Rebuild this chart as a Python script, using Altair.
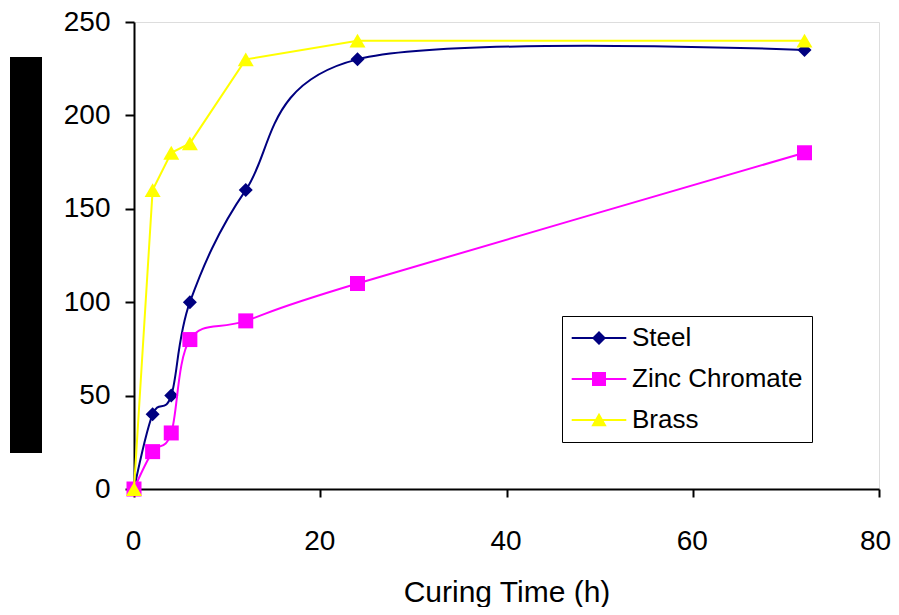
import altair as alt
import pandas as pd

# ---- data ----
times = [0, 2, 4, 6, 12, 24, 72]
steel = [0, 40, 50, 100, 160, 230, 235]
zinc = [0, 20, 30, 80, 90, 110, 180]
brass = [0, 160, 180, 185, 230, 240, 240]

series_names = ["Steel", "Zinc Chromate", "Brass"]
series_values = [steel, zinc, brass]
series_colors = ["#000080", "#FF00FF", "#FFFF00"]
series_shapes = ["diamond", "square", "triangle-up"]
series_sizes = [196, 225, 256]
series_interp = ["cardinal", "cardinal", "linear"]

x_ticks = [0, 20, 40, 60, 80]
y_ticks = [0, 50, 100, 150, 200, 250]

# legend symbols: line + marker as one path
LINE = "M-3.9,-0.16H3.9V0.16H-3.9Z "
legend_paths = [
    LINE + "M0,-1L1,0L0,1L-1,0Z",
    LINE + "M-1,-1H1V1H-1Z",
    LINE + "M0,-1.05L1.1,0.9H-1.1Z",
]

frames = []
for name, vals in zip(series_names, series_values):
    frames.append(pd.DataFrame({"t": times, "v": vals, "series": name}))
long_df = pd.concat(frames, ignore_index=True)

x_scale = alt.Scale(domain=[0, 80], nice=False)
y_scale = alt.Scale(domain=[0, 250], nice=False)

x_axis = alt.Axis(
    values=x_ticks, title="Curing Time (h)", grid=False,
    domainColor="black", domainWidth=2, tickColor="black", tickWidth=2, tickSize=8,
    labelFont="Liberation Sans", labelFontSize=28, labelColor="black",
    labelPadding=30, labelFlush=False,
    labelOffset={"condition": {"test": "datum.value === 80", "value": -4}, "value": -1},
    titleFont="Liberation Sans", titleFontSize=30, titleFontWeight="normal", titleColor="black",
    titleBaseline="alphabetic", titleY=112,
)
y_axis = alt.Axis(
    values=y_ticks, title=None, grid=False,
    domainColor="black", domainWidth=2, tickColor="black", tickWidth=2, tickSize=9,
    labelFont="Liberation Sans", labelFontSize=28, labelColor="black",
    labelPadding=15, labelFlush=False,
)

X = alt.X("t:Q", scale=x_scale, axis=x_axis)
Y = alt.Y("v:Q", scale=y_scale, axis=y_axis)

layers = []
for name, vals, col, shp, sz, interp in zip(series_names, series_values, series_colors,
                                           series_shapes, series_sizes, series_interp):
    d = pd.DataFrame({"t": times, "v": vals})
    line = alt.Chart(d).mark_line(color=col, strokeWidth=2, interpolate=interp, clip=False).encode(
        x=X, y=Y)
    pts = alt.Chart(d).mark_point(shape=shp, filled=True, color=col, size=sz, opacity=1,
                                  clip=False).encode(x=X, y=Y)
    layers += [line, pts]

legend = alt.Legend(
    title=None, orient="none", legendX=428, legendY=294,
    labelFont="Liberation Sans", labelFontSize=26, labelColor="black", labelLimit=400,
    symbolSize=196, symbolOpacity=1, symbolStrokeWidth=0, symbolOffset=15,
    strokeColor="black", fillColor="white",
    padding=9, rowPadding=15, labelOffset=20,
)
legend_layer = alt.Chart(long_df).mark_point(filled=True).encode(
    x=X, y=Y,
    color=alt.Color("series:N", scale=alt.Scale(domain=series_names, range=series_colors),
                    legend=legend, sort=series_names),
    shape=alt.Shape("series:N", scale=alt.Scale(domain=series_names, range=legend_paths),
                    legend=legend, sort=series_names),
    opacity=alt.value(0),
)

# redaction block to the left of the y axis (as in the reference)
block = alt.Chart(pd.DataFrame({"k": [0]})).mark_rect(color="black", clip=False).encode(
    x=alt.value(-124), x2=alt.value(-92), y=alt.value(35), y2=alt.value(431))

chart = alt.layer(*layers, legend_layer, block).properties(
    width=745, height=467,
    autosize=alt.AutoSizeParams(type="none"),
    padding={"left": 126, "top": 14, "right": 12, "bottom": 118},
).configure_view(stroke="#808080", strokeWidth=2).configure_legend(
    strokeWidth=2
).configure(background="white")

chart.save("out.html", embed_options={"renderer": "svg", "actions": False})
